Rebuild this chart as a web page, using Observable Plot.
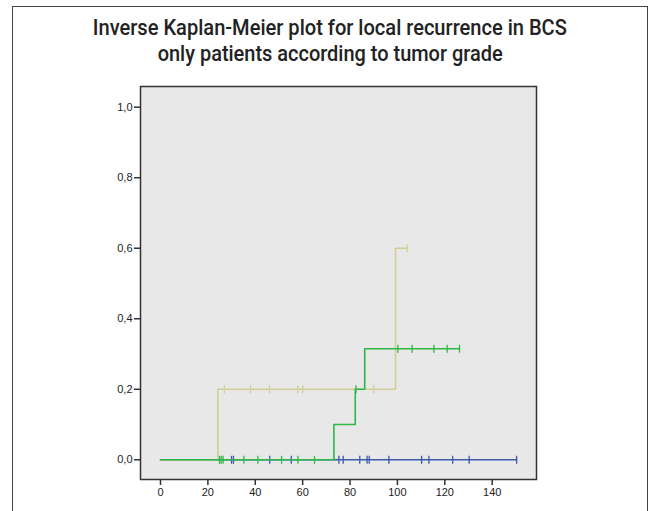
<!DOCTYPE html>
<html>
<head>
<meta charset="utf-8">
<script src="https://cdn.jsdelivr.net/npm/d3@7"></script>
<script src="https://cdn.jsdelivr.net/npm/@observablehq/plot@0.6"></script>
<style>
  html, body { margin: 0; padding: 0; background: #fff; width: 649px; height: 511px; overflow: hidden; }
  #box { position: absolute; left: 12px; top: 6px; width: 636px; height: 520px; border: 1.5px solid #444; box-sizing: border-box; }
  .tline { position: absolute; left: 0; width: 660px; text-align: center; white-space: nowrap;
    font-family: "Liberation Sans Narrow", "Roboto", sans-serif; font-weight: 500; font-size: 22px; line-height: 26px; color: #222; }
  .tline span { display: inline-block; transform-origin: 50% 50%; }
  #chart { position: absolute; left: 0; top: 0; }
</style>
</head>
<body>
<div id="box"></div>
<div class="tline" style="top:15px"><span id="t1">Inverse Kaplan-Meier plot for local recurrence in BCS</span></div>
<div class="tline" style="top:41px"><span id="t2">only patients according to tumor grade</span></div>
<div id="chart"></div>
<script>
// Step curves (time in months, cumulative probability)
const grade1Times = [0, 24.2, 99.2, 104.1];
const grade1Values = [0, 0.2, 0.6, 0.6];
const grade1CensorTimes = [27, 38, 46, 58, 60, 90, 104.1];
const grade1CensorValues = [0.2, 0.2, 0.2, 0.2, 0.2, 0.2, 0.6];

const grade2Times = [0, 73.2, 82.2, 86.2, 126.2];
const grade2Values = [0, 0.1, 0.2, 0.315, 0.315];
const grade2CensorTimes = [24.9, 25.6, 26.4, 35.2, 41.1, 51.1, 58, 65, 82.5, 100.2, 106.2, 115.4, 121, 126.2];
const grade2CensorValues = [0, 0, 0, 0, 0, 0, 0, 0, 0.2, 0.315, 0.315, 0.315, 0.315, 0.315];

const grade3Times = [0, 150.3];
const grade3Values = [0, 0];
const grade3CensorTimes = [30, 30.8, 46.1, 55.2, 75.3, 77.1, 84.1, 87.2, 88.1, 96.4, 110.2, 113.3, 123.3, 130.3, 150.3];
const grade3CensorValues = [0, 0, 0, 0, 0, 0, 0, 0, 0, 0, 0, 0, 0, 0, 0];

const xTicks = [0, 20, 40, 60, 80, 100, 120, 140];
const yTicks = [0, 0.2, 0.4, 0.6, 0.8, 1.0];

const colors = { g1: "#d3ce97", g2: "#2eb848", g3: "#3e58ac" };

// condense title lines to the reference widths
[["t1", 474], ["t2", 345]].forEach(([id, w]) => {
  const el = document.getElementById(id);
  const cur = el.getBoundingClientRect().width;
  el.style.transform = `scaleX(${w / cur})`;
});

const toRows = (ts, vs) => ts.map((t, i) => ({ t, v: vs[i] }));

const vbar = {
  draw(ctx, size) {
    const h = Math.sqrt(size / Math.PI);
    ctx.moveTo(0, -h); ctx.lineTo(0, h);
  }
};

function series(ts, vs, cts, cvs, color) {
  return [
    Plot.line(toRows(ts, vs), { x: "t", y: "v", curve: "step-after", stroke: color, strokeWidth: 1.6 }),
    Plot.dot(toRows(cts, cvs), { x: "t", y: "v", symbol: vbar, r: 4, stroke: color, strokeWidth: 1.3, fill: "none" })
  ];
}

const fmt = d => d.toFixed(1).replace(".", ",");

const chart = Plot.plot({
  width: 649,
  height: 511,
  marginLeft: 140,
  marginRight: 113,
  marginTop: 86,
  marginBottom: 32,
  style: { fontFamily: "Liberation Sans, Arial, sans-serif", fontSize: "11px", color: "#222", background: "transparent" },
  x: { domain: [-8.44, 158.7] },
  y: { domain: [-0.0559, 1.0587] },
  marks: [
    Plot.frame({ fill: "#e8e8e8", stroke: "none" }),
    ...series(grade3Times, grade3Values, grade3CensorTimes, grade3CensorValues, colors.g3),
    ...series(grade1Times, grade1Values, grade1CensorTimes, grade1CensorValues, colors.g1),
    ...series(grade2Times, grade2Values, grade2CensorTimes, grade2CensorValues, colors.g2),
    Plot.frame({ stroke: "#333", strokeWidth: 1.5 }),
    Plot.axisX({ ticks: xTicks, tickSize: 6, tickPadding: 3, tickFormat: d => String(d), label: null, stroke: "#333", strokeWidth: 1.5 }),
    Plot.axisY({ ticks: yTicks, tickSize: 6, tickPadding: 2, tickFormat: fmt, label: null, stroke: "#333", strokeWidth: 1.5 })
  ]
});
document.getElementById("chart").appendChild(chart);
</script>
</body>
</html>
